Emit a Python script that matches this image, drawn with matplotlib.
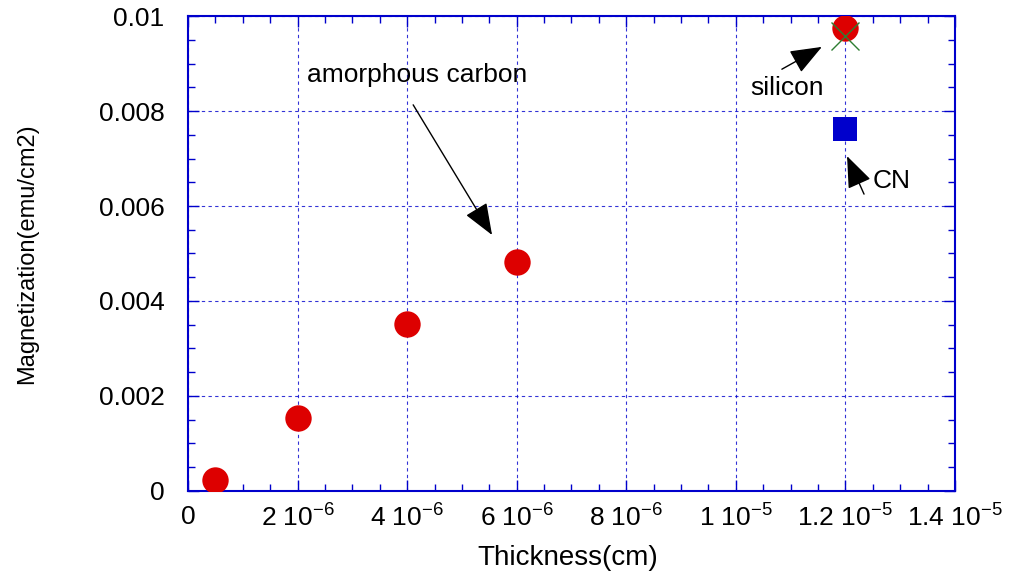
import matplotlib.pyplot as plt
from matplotlib.ticker import MultipleLocator

plt.rcParams["font.family"] = ["Liberation Sans", "DejaVu Sans"]
plt.rcParams["mathtext.default"] = "regular"

# amorphous carbon series
carbon_thickness = [5e-7, 2e-6, 4e-6, 6e-6, 1.2e-5]
carbon_magnet = [0.00023, 0.00154, 0.00352, 0.00482, 0.00975]

# silicon and CN points
silicon_thickness = [1.2e-5]
silicon_magnet = [0.00958]
cn_thickness = [1.2e-5]
cn_magnet = [0.00762]

x_ticks = [0, 2e-6, 4e-6, 6e-6, 8e-6, 1e-5, 1.2e-5, 1.4e-5]
x_tick_labels = ["0", "2 10$^{-6}$", "4 10$^{-6}$", "6 10$^{-6}$", "8 10$^{-6}$",
                 "1 10$^{-5}$", "1.2 10$^{-5}$", "1.4 10$^{-5}$"]
y_ticks = [0, 0.002, 0.004, 0.006, 0.008, 0.01]
y_tick_labels = ["0", "0.002", "0.004", "0.006", "0.008", "0.01"]

blue = "#0000cc"

fig = plt.figure(figsize=(10.14, 5.76), dpi=100)
ax = fig.add_axes([0.1854, 0.1476, 0.7564, 0.8246])

ax.plot(silicon_thickness, silicon_magnet, "x", color="#2e7d32", ms=20, mew=1, zorder=4)
ax.plot(carbon_thickness, carbon_magnet, "o", color="#dd0000", ms=19, mew=0, zorder=3)
ax.plot(cn_thickness, cn_magnet, "s", color=blue, ms=17, mew=0, zorder=3)

ax.set_xlim(0, 1.4e-5)
ax.set_ylim(0, 0.01)
ax.set_xticks(x_ticks)
ax.set_xticklabels(x_tick_labels, fontsize=19)
ax.set_yticks(y_ticks)
ax.set_yticklabels(y_tick_labels, fontsize=19)
ax.xaxis.set_minor_locator(MultipleLocator(5e-7))
ax.yaxis.set_minor_locator(MultipleLocator(0.0005))
ax.tick_params(which="both", direction="in", top=True, right=True, color=blue)
ax.tick_params(which="major", length=8, width=1)
ax.tick_params(which="minor", length=5, width=1)
ax.tick_params(axis="x", pad=10)
ax.tick_params(axis="y", pad=17)
for sp in ax.spines.values():
    sp.set_color(blue)
    sp.set_linewidth(1.5)
ax.grid(True, which="major", color=blue, linestyle=(0, (3, 3)), linewidth=0.8, alpha=0.8)

ax.set_xlabel("Thickness(cm)", fontsize=20)
ax.set_ylabel("Magnetization(emu/cm2)", fontsize=17)
ax.xaxis.set_label_coords(0.495, -0.113)
ax.yaxis.set_label_coords(-0.196, 0.5)

arrow = dict(arrowstyle="-|>,head_length=0.9,head_width=0.35", color="black",
             lw=1, mutation_scale=22, shrinkA=0, shrinkB=0)
ax.annotate("", xy=(5.55e-6, 0.00539), xytext=(4.11e-6, 0.00813), arrowprops=arrow)
ax.annotate("", xy=(1.157e-5, 0.00935), xytext=(1.084e-5, 0.00888), arrowprops=arrow)
ax.annotate("", xy=(1.203e-5, 0.00705), xytext=(1.234e-5, 0.00625), arrowprops=arrow)

ax.text(2.17e-6, 0.00876, "amorphous carbon", fontsize=19, va="center")
ax.text(1.026e-5, 0.00848, "silicon", fontsize=19, va="center")
ax.text(1.249e-5, 0.00653, "CN", fontsize=19, va="center")

fig.savefig("out.png", dpi=100)
